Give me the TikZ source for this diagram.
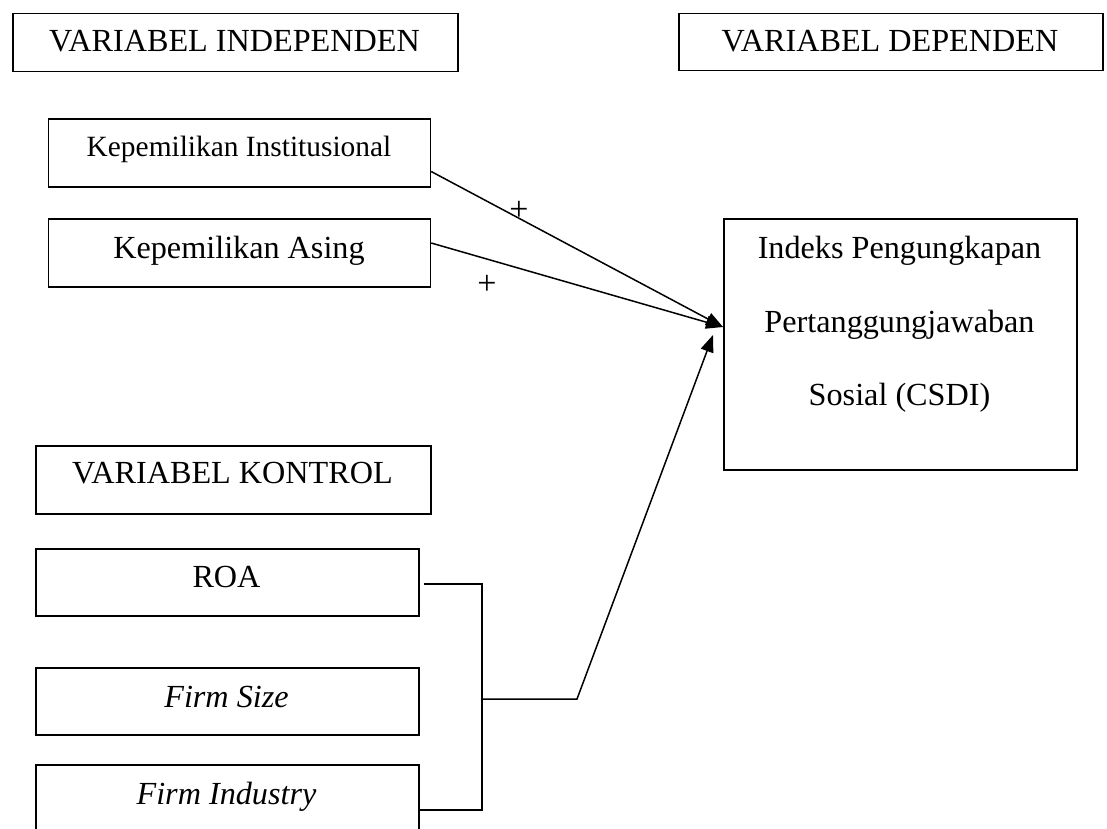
\documentclass[tikz,border=0pt]{standalone}
\usepackage{fontspec}
\setmainfont{Liberation Serif}
\usetikzlibrary{arrows.meta}
\begin{document}
\begin{tikzpicture}[x=1pt,y=-1pt,
  box/.style={draw, line width=1.5pt, inner sep=0pt, anchor=north west},
  txt/.style={anchor=base, inner sep=0pt, font=\fontsize{32.2}{36}\selectfont},
  smalltxt/.style={anchor=base, inner sep=0pt, font=\fontsize{29.4}{34}\selectfont},
  plus/.style={inner sep=0pt, font=\fontsize{34}{36}\selectfont},
  conn/.style={line width=1.5pt},
  arr/.style={conn, -{Triangle[length=17pt,width=13pt]}}]
\useasboundingbox (0,0) rectangle (1107,828);
\fill[white] (0,0) rectangle (1107,828);
% boxes
\node[box, minimum width=445pt, minimum height=58pt] (indep) at (12,12.7) {};
\node[box, minimum width=424pt, minimum height=57pt] (dep) at (678,12.7) {};
\node[box, minimum width=382pt, minimum height=68pt] (ki) at (47.7,118) {};
\node[box, minimum width=382pt, minimum height=68pt] (ka) at (47.7,218) {};
\node[box, minimum width=353pt, minimum height=251pt] (ind) at (723,218) {};
\node[box, minimum width=395pt, minimum height=68pt] (kon) at (35,445) {};
\node[box, minimum width=383pt, minimum height=67pt] (roa) at (35,548) {};
\node[box, minimum width=383pt, minimum height=67pt] (fs) at (35,667) {};
\node[box, minimum width=383pt, minimum height=67pt] (fi) at (35,764) {};
% texts
\node[txt] (tindep) at (234.5,51.7) {VARIABEL INDEPENDEN};
\node[txt] (tdep) at (890,51.5) {VARIABEL DEPENDEN};
\node[smalltxt] (tki) at (239,156) {Kepemilikan Institusional};
\node[txt] (tka) at (239,258) {Kepemilikan Asing};
\node[txt] (tind1) at (899.5,258) {Indeks Pengungkapan};
\node[txt] (tind2) at (899.5,332) {Pertanggungjawaban};
\node[txt] (tind3) at (899.5,405) {Sosial (CSDI)};
\node[txt] (tkon) at (232.5,483) {VARIABEL KONTROL};
\node[txt] (troa) at (226.5,587) {ROA};
\node[txt] (tfs) at (226.5,707) {\itshape Firm Size};
\node[txt] (tfi) at (226.5,804) {\itshape Firm Industry};
% plus labels
\node[plus] (p1) at (519,211) {+};
\node[plus] (p2) at (487,285) {+};
% connectors
\draw[arr] ([yshift=16pt]ki.south east) -- ([yshift=-109pt]ind.north west);
\draw[arr] ([yshift=-25pt]ka.north east) -- ([yshift=-109pt]ind.north west);
\coordinate (bx) at (482,699);
\coordinate (jn) at (577,699);
\draw[conn] ([xshift=4pt,yshift=-1.5pt]roa.east) -| (bx);
\draw[conn] ([yshift=-11.5pt]fi.east) -| (bx);
\draw[arr] (bx) -- (jn) -- ([xshift=-10pt,yshift=-117pt]ind.north west);
\end{tikzpicture}
\end{document}
